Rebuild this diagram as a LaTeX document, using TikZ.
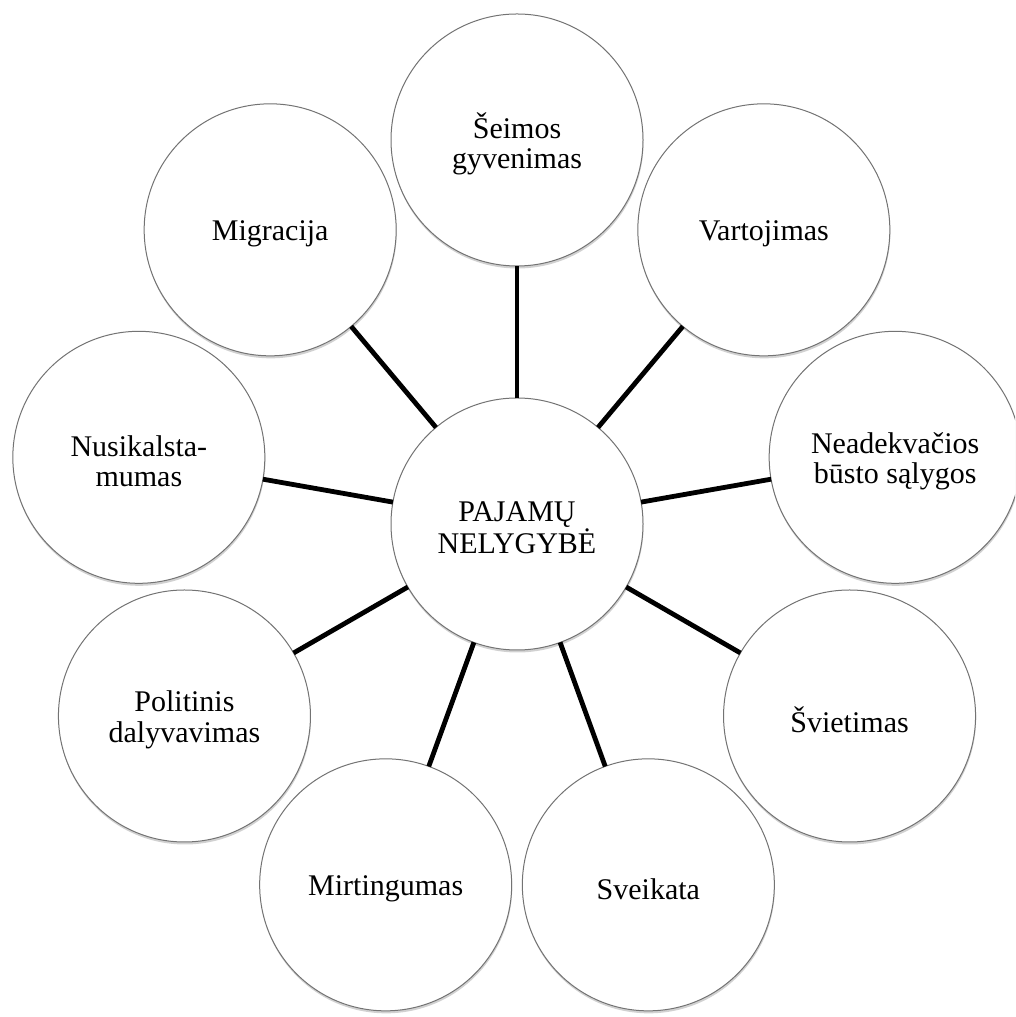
\documentclass[tikz,border=0pt]{standalone}
\usepackage{fontspec}
\setmainfont{Liberation Serif}
\usetikzlibrary{shadows}
\begin{document}
\begin{tikzpicture}[x=1pt,y=1pt,
  bub/.style={circle, draw=black!55, line width=1pt, fill=white,
    minimum size=252pt, inner sep=0pt, outer sep=0pt,
    drop shadow={shadow xshift=0.5pt, shadow yshift=-2.5pt, opacity=0.3, fill=black!60}},
  txt/.style={align=center, inner sep=0pt, font=\fontsize{30}{30.5}\selectfont},
  conn/.style={draw=black, line width=4.8pt}]
\useasboundingbox (0,0) rectangle (1015,1017);
\clip (0,0) rectangle (1015,1017);
\coordinate (o) at (517,493);
\node[bub] (c) at (o) {};
\node[txt] (ct) at ([yshift=-4pt]c.center) {PAJAMŲ\\NELYGYBĖ};
\foreach \a/\n/\t in {90/n1/{Šeimos\\gyvenimas}, 50/n2/{Vartojimas},
    10/n3/{Neadekvačios\\būsto sąlygos}, -30/n4/{Švietimas},
    -70/n5/{Sveikata}, -110/n6/{Mirtingumas},
    -150/n7/{Politinis\\dalyvavimas}, 170/n8/{Nusikalsta-\\mumas},
    130/n9/{Migracija}} {
  \node[bub] (\n) at ([shift={(\a:384pt)}]o) {};
  \node[txt] (\n t) at ([yshift=-4pt]\n.center) {\t};
}
\foreach \n in {n1,n2,n3,n4,n5,n6,n7,n8,n9}
  \draw[conn] (c) -- (\n);
\end{tikzpicture}
\end{document}
